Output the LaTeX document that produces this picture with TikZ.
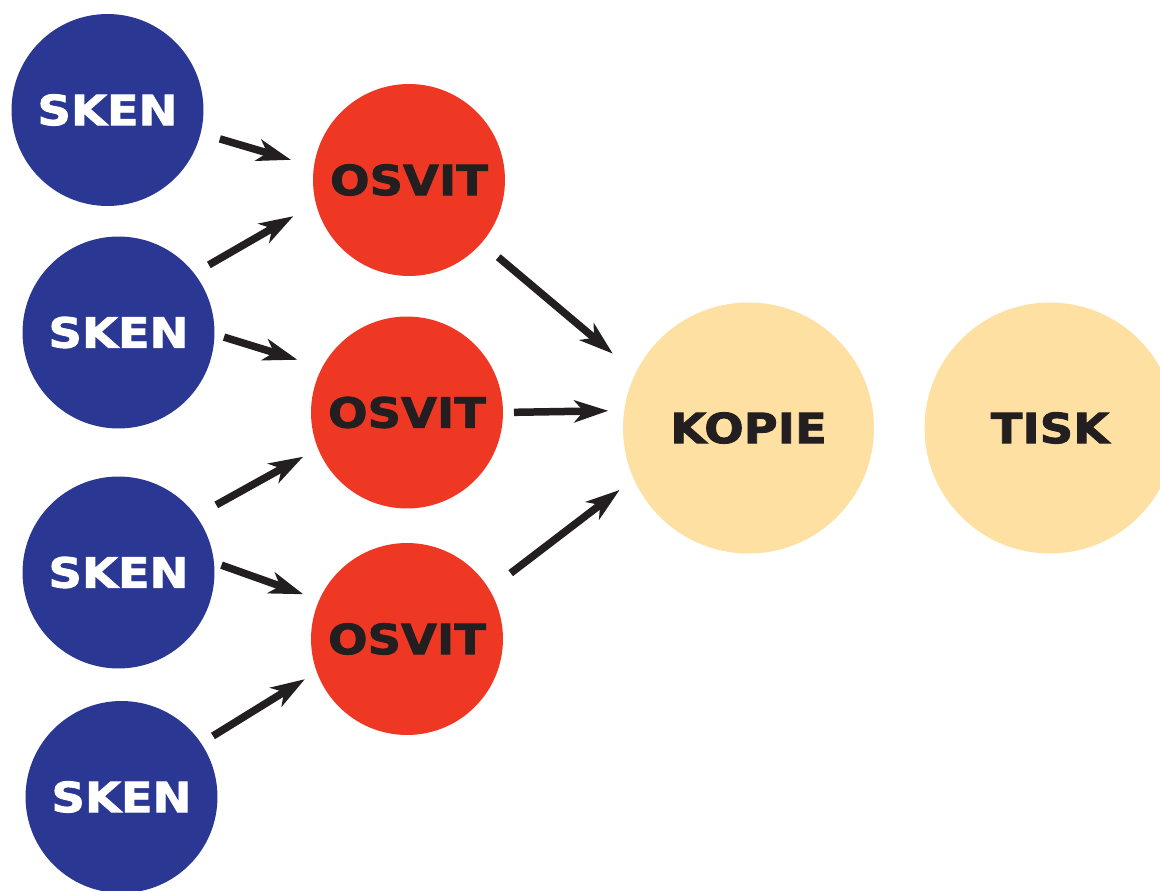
\documentclass[tikz,border=0pt]{standalone}
\usepackage{fontspec}
\newfontfamily\uzelfont{DejaVu Sans}[FakeStretch=1.12,FakeBold=2]
\usepackage{tikz}
\usetikzlibrary{shapes}
\usetikzlibrary{arrows.meta}
\usetikzlibrary{positioning}
\usetikzlibrary{calc}

\definecolor{skenblue}{RGB}{42,56,147}
\definecolor{osvitred}{RGB}{238,56,36}
\definecolor{kopiesand}{RGB}{254,224,162}
\definecolor{inkblack}{RGB}{35,31,32}

\begin{document}
\begin{tikzpicture}[x=0.02cm,y=-0.02cm]
\tikzstyle{uzel}=[
        circle,
        inner sep=0pt,
        outer sep=0pt,
        font=\uzelfont\bfseries\fontsize{23.6}{24}\selectfont
]
\tikzstyle{sken}=[uzel,minimum size=3.84cm,fill=skenblue,text=white]
\tikzstyle{osvit}=[uzel,minimum size=3.84cm,fill=osvitred,text=inkblack]
\tikzstyle{kopie}=[uzel,minimum size=5.02cm,fill=kopiesand,text=inkblack]
%styl sipek
\tikzstyle{sipka}=[-{Stealth[length=0.68cm,width=0.44cm,inset=0.19cm]},
line width=0.15cm,draw=inkblack]
\useasboundingbox (0,0) rectangle (1160,891);
%umisteni uzlu
\node[sken] (sken1) at (107.5,110) {SKEN};
\node[sken] (sken2) at (118.5,332.5) {SKEN};
\node[sken] (sken3) at (118.5,572.5) {SKEN};
\node[sken] (sken4) at (121.5,797) {SKEN};
\node[osvit] (osvit1) at (409,180) {OSVIT};
\node[osvit] (osvit2) at (407,412.5) {OSVIT};
\node[osvit] (osvit3) at (407,639) {OSVIT};
\node[kopie] (kopie) at (748.5,428) {KOPIE};
\node[kopie] (tisk) at (1050,428) {TISK};
%umisteni sipek
\draw[sipka,shorten <=0.40cm,shorten >=0.48cm] (sken1.-14) -- (osvit1.172);
\draw[sipka,shorten <=0.34cm,shorten >=0.52cm] (sken2.38) -- (osvit1.194);
\draw[sipka,shorten <=0.20cm,shorten >=0.52cm] (sken2.-1) -- (osvit2.152);
\draw[sipka,shorten <=0.46cm,shorten >=0.34cm] (sken3.36) -- (osvit2.202);
\draw[sipka,shorten <=0.16cm,shorten >=0.34cm] (sken3.6) -- (osvit3.156);
\draw[sipka,shorten <=0.28cm,shorten >=0.28cm] (sken4.34) -- (osvit3.200);
\draw[sipka,shorten <=0.44cm,shorten >=0.60cm] (osvit1.-41) -- (kopie.154);
\draw[sipka,shorten <=0.22cm,shorten >=0.32cm] (osvit2.0) -- (kopie.172);
\draw[sipka,shorten <=0.54cm,shorten >=0.36cm] (osvit3.31) -- (kopie.204);
\end{tikzpicture}
\end{document}
